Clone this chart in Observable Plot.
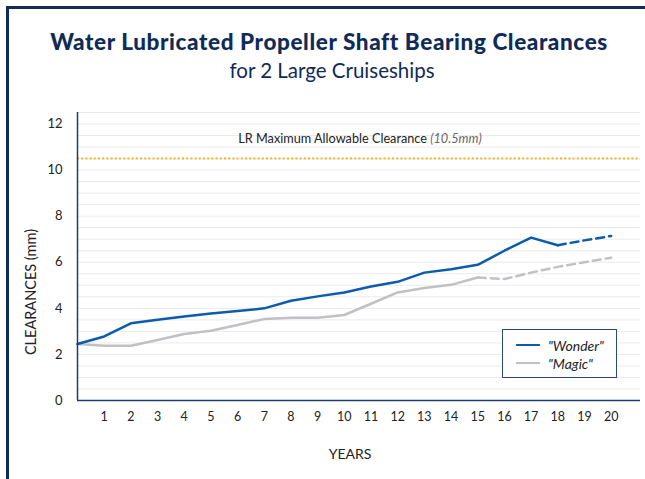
<!DOCTYPE html>
<html>
<head>
<meta charset="utf-8">
<script src="https://cdn.jsdelivr.net/npm/d3@7"></script>
<script src="https://cdn.jsdelivr.net/npm/@observablehq/plot@0.6"></script>
<style>
  html, body { margin: 0; padding: 0; background: #fff; }
  body { width: 645px; height: 479px; overflow: hidden; position: relative; font-family: Lato, "Open Sans", sans-serif; }
  #frame { position: absolute; left: 6px; top: 6px; width: 639px; height: 473px; border-top: 3px solid #0f2d5c; border-left: 3px solid #0f2d5c; box-sizing: border-box; }
  #title { position: absolute; left: 0; width: 658px; top: 28px; text-align: center; font-weight: 900; font-size: 22.5px; color: #102b57; letter-spacing: 0.6px; white-space: nowrap; }
  #subtitle { position: absolute; left: 0; width: 664px; top: 58px; text-align: center; font-size: 20.5px; color: #102b57; }
  #chart { position: absolute; left: 0; top: 90px; }
  #note { position: absolute; left: 0; width: 720px; top: 130px; text-align: center; font-size: 12.7px; color: #222; }
  #note i { color: #666; }
  #ylab { position: absolute; left: 30px; top: 292px; transform: translate(-50%, -50%) rotate(-90deg); font-size: 14.5px; color: #222; white-space: nowrap; }
  #xlab { position: absolute; left: 350px; top: 453px; transform: translate(-50%, -50%); font-size: 14px; color: #222; }
  #legend { position: absolute; left: 502px; top: 329px; width: 115px; height: 49px; border: 1px solid #2a4a78; box-sizing: border-box; background: #fff; font-size: 14px; font-style: italic; color: #222; }
  .li { position: absolute; left: 13px; height: 16px; display: flex; align-items: center; }
  .sw { width: 24px; height: 0; border-top: 2.5px solid; margin-right: 8px; }
</style>
</head>
<body>
<div id="frame"></div>
<div id="title">Water Lubricated Propeller Shaft Bearing Clearances</div>
<div id="subtitle">for 2 Large Cruiseships</div>
<div id="chart"></div>
<div id="note">LR Maximum Allowable Clearance <i>(10.5mm)</i></div>
<div id="ylab">CLEARANCES (mm)</div>
<div id="xlab">YEARS</div>
<div id="legend">
  <div class="li" style="top:7px"><span class="sw" style="border-color:#0b5cad"></span>"Wonder"</div>
  <div class="li" style="top:25px"><span class="sw" style="border-color:#c0c1c5"></span>"Magic"</div>
</div>
<script>
const years = [0,1,2,3,4,5,6,7,8,9,10,11,12,13,14,15,16,17,18,19,20];
const wonder = [2.45,2.78,3.35,3.5,3.65,3.78,3.88,4.0,4.33,4.52,4.69,4.95,5.15,5.55,5.7,5.89,6.5,7.07,6.74,6.95,7.14];
const magic = [2.45,2.38,2.38,2.63,2.89,3.03,3.28,3.54,3.59,3.59,3.71,4.2,4.69,4.88,5.02,5.34,5.27,5.55,5.8,6.0,6.2];
const wonderLastMeasured = 18;
const magicLastMeasured = 15;
const limit = 10.5;
const yTicks = [0,2,4,6,8,10,12];
const xTicks = [1,2,3,4,5,6,7,8,9,10,11,12,13,14,15,16,17,18,19,20];
const gridValues = d3.range(1, 26).map(i => i * 0.5);

const W = years.map((x, i) => ({x, y: wonder[i]}));
const M = years.map((x, i) => ({x, y: magic[i]}));

const navy = "#1f3d6b";
const blue = "#0b5cad";
const gray = "#c0c1c5";

const chart = Plot.plot({
  width: 645,
  height: 389,
  marginTop: 22,
  marginBottom: 79,
  marginLeft: 77,
  marginRight: 5,
  style: { fontFamily: "Lato, 'Open Sans', sans-serif", fontSize: "13px", color: "#222", background: "transparent" },
  x: { domain: [0, 21.1], axis: null },
  y: { domain: [0, 12.5], axis: null },
  marks: [
    Plot.ruleY(gridValues, { stroke: "#ebebeb", strokeWidth: 1 }),
    Plot.ruleY([limit], { stroke: "#f0b429", strokeWidth: 2, strokeDasharray: "2,2.2" }),
    Plot.line(M.filter(d => d.x <= magicLastMeasured), { x: "x", y: "y", stroke: gray, strokeWidth: 2.5 }),
    Plot.line(M.filter(d => d.x >= magicLastMeasured), { x: "x", y: "y", stroke: gray, strokeWidth: 2.5, strokeDasharray: "8,5" }),
    Plot.line(W.filter(d => d.x <= wonderLastMeasured), { x: "x", y: "y", stroke: blue, strokeWidth: 2.5 }),
    Plot.line(W.filter(d => d.x >= wonderLastMeasured), { x: "x", y: "y", stroke: blue, strokeWidth: 2.5, strokeDasharray: "8,5" }),
    Plot.axisY(yTicks, { tickSize: 0, tickPadding: 15, fontSize: 13, label: null }),
    Plot.axisX(xTicks, { tickSize: 0, tickPadding: 12, fontSize: 12.5, label: null }),
    Plot.ruleX([0], { stroke: navy, strokeWidth: 1.5 }),
    Plot.ruleY([0], { stroke: navy, strokeWidth: 1.5 })
  ]
});
document.getElementById("chart").appendChild(chart);
</script>
</body>
</html>
